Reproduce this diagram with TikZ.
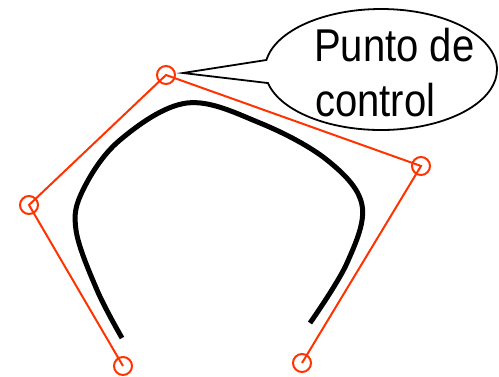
\documentclass[tikz,border=0pt]{standalone}
\usepackage{fontspec}
\newfontfamily\calloutfont[FakeStretch=0.87]{Liberation Sans}
\usetikzlibrary{shapes.callouts}
\definecolor{ctrlred}{RGB}{255,51,0}
\tikzset{
  ctrlpt/.style={circle, draw=ctrlred, line width=2pt, minimum size=18pt, inner sep=0pt},
  polyline/.style={draw=ctrlred, line width=2pt},
  beziercurve/.style={draw=black, line width=5pt},
  bubble/.style={ellipse callout, draw=black, line width=1.8pt, minimum width=232pt, minimum height=121pt, inner sep=0pt, callout pointer arc=22},
  bubbletext/.style={font=\calloutfont\fontsize{46}{55}\selectfont, inner sep=0pt, anchor=base west}
}
\begin{document}
\begin{tikzpicture}[x=1pt, y=-1pt]
\useasboundingbox (0,0) rectangle (499,376);
% control points
\node[ctrlpt] (p0) at (123,366) {};
\node[ctrlpt] (p1) at (29,205) {};
\node[ctrlpt] (p2) at (166,75) {};
\node[ctrlpt] (p3) at (421,166) {};
\node[ctrlpt] (p4) at (302,363) {};
% control polygon
\draw[polyline] (p0.center) -- (p1.center) -- (p2.center) -- (p3.center) -- (p4.center);
% curve
\draw[beziercurve] plot[smooth, tension=0.6] coordinates {(122,338) (97,290) (76,230) (83,190) (120,140) (187,103) (260,123) (327,160) (362,205) (347,263) (310,323)};
% callout
\coordinate (tip) at (183,73);
\node[bubble, callout absolute pointer={(tip)}] (callout) at (381,69.5) {};
\node[bubbletext] (line1) at (314,61.7) {Punto de};
\node[bubbletext] (line2) at (315,116.7) {control};
\end{tikzpicture}
\end{document}
